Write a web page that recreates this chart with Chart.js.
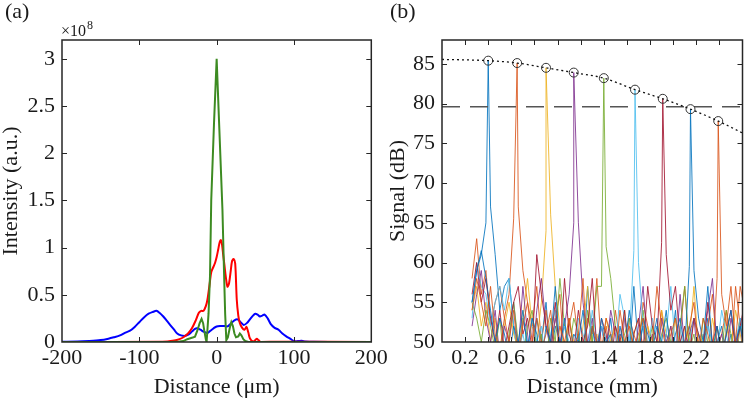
<!DOCTYPE html>
<html><head><meta charset="utf-8">
<script src="https://cdn.jsdelivr.net/npm/chart.js@4.4.1/dist/chart.umd.min.js"></script>
<style>
html,body{margin:0;padding:0;background:#fff;}
#wrap{position:relative;width:748px;height:400px;overflow:hidden;background:#fff;font-family:'Liberation Serif','Times New Roman',serif;color:#1a1a1a;}
canvas{position:absolute;top:0;}
#ca{left:0;}
#cb{left:380px;}
.t{position:absolute;white-space:nowrap;}
</style></head>
<body><div id="wrap">
<canvas id="ca" width="400" height="400"></canvas>
<canvas id="cb" width="368" height="400"></canvas>
<div class="t" style="left:5px;top:0px;font-size:22px;line-height:22px;">(a)</div>
<div class="t" style="left:390px;top:0px;font-size:22px;line-height:22px;">(b)</div>
<div class="t" style="left:61px;top:23px;font-size:16px;line-height:16px;">×10</div>
<div class="t" style="left:87px;top:19px;font-size:12px;line-height:12px;">8</div>
</div>
<script>
// ---------- Panel (a): intensity profiles (units of 1e8 a.u.) ----------
const blueUm = [-200,-180,-165,-150,-140,-133,-125,-118,-112,-106,-100,-94,-88,-82,-78,-74,-69,-64,-60,-55,-51,-46,-41,-36,-32,-28,-25,-21,-17,-12,-8,-4,0,5,10,14,19,23,27,31,35,39,43,47,50,53,56,59,62,66,70,75,80,85,90,95,100,105,110,115,125,150,200];
const blueI  = [0.003,0.004,0.01,0.02,0.035,0.05,0.07,0.1,0.12,0.16,0.21,0.26,0.3,0.32,0.33,0.31,0.27,0.22,0.18,0.13,0.09,0.07,0.065,0.08,0.11,0.14,0.145,0.13,0.11,0.095,0.12,0.145,0.165,0.17,0.17,0.165,0.2,0.23,0.24,0.21,0.18,0.2,0.24,0.28,0.3,0.29,0.27,0.28,0.29,0.25,0.19,0.15,0.13,0.09,0.06,0.035,0.01,0.01,0.012,0.006,0.002,0.001,0.001];
const redUm  = [-200,-70,-55,-48,-43,-37,-32,-27,-23,-20,-17,-14,-12,-9,-7,-4,-2,0,2,4,5.5,7,8.5,10,12,14,16,18,20,22,24,26,28,30,33,36,38.5,41,43,47,50,52,54,57,80,200];
const redI   = [0,0.002,0.015,0.03,0.05,0.09,0.145,0.23,0.31,0.33,0.33,0.38,0.445,0.62,0.74,0.8,0.84,0.9,0.98,1.06,1.08,1.03,0.92,0.82,0.68,0.586,0.62,0.74,0.86,0.88,0.83,0.45,0.28,0.2,0.15,0.13,0.16,0.1,0.04,0.005,0.02,0.035,0.02,0,0.003,0];
const greenUm = [-200,-60,-48,-43,-38,-34,-30,-28,-25,-22,-19.5,-17.5,-16,-14,-13,-10.5,-8.6,-7,-3.5,0,3.5,7.5,9.5,11,12.5,14.5,17,19,21,23,25,28,30,32,34.5,37,41,80,200];
const greenI  = [0,0,0.005,0.01,0.03,0.04,0.05,0.056,0.12,0.2,0.245,0.2,0.12,0.03,0,0.3,0.7,1.5,2.3,3.0,2.25,1.4,0.75,0.3,0.02,0.05,0.15,0.21,0.17,0.09,0.05,0.06,0.09,0.07,0.03,0.01,0,0,0];

// ---------- Panel (b): A-scan signals (dB) ----------
const distGridMm = [0.26,0.30,0.34,0.38,0.42,0.46,0.50,0.54,0.58,0.62,0.66,0.70,0.74,0.78,0.82,0.86,0.90,0.94,0.98,1.02,1.06,1.10,1.14,1.18,1.22,1.26,1.30,1.34,1.38,1.42,1.46,1.50,1.54,1.58,1.62,1.66,1.70,1.74,1.78,1.82,1.86,1.90,1.94,1.98,2.02,2.06,2.10,2.14,2.18,2.22,2.26,2.30,2.34,2.38,2.42,2.46,2.50,2.54,2.58,2.62];
const scan1 = [55,59,61,65,67,61,54,57,58,52, 48,53,50,47,53,50,55,48,52,50, 46,53,49,51,47,57,50,48,52,49, 53,47,51,50,48,57,49,52,47,50, 53,48,51,49,54,47,50,52,48,51, 49,53,47,50,52,48,51,49,53,50];
const scan2 = [58,63,56,59,52,55,57,53,56,65.5, 67,59,55,52,57,50,54,49,53,56, 48,52,55,50,47,53,51,58,49,52, 48,54,50,47,53,51,49,55,52,48, 50,54,49,52,47,51,57,49,53,50, 48,52,56,49,51,54,48,57,52,50];
const scan3 = [54,57,52,55,50,53,48,52,55,51, 49,53,58,52,50,55,64,66,57,52, 49,53,50,47,52,57,49,51,48,53, 50,52,49,54,47,51,53,49,52,50, 48,54,51,49,53,47,52,50,57,49, 51,48,53,50,47,52,49,54,51,48];
const scan4 = [52,56,59,53,50,54,48,52,50,55, 49,57,51,47,54,58,52,49,53,50, 52,56,65,65,55,50,53,48,52,49, 54,51,47,53,50,48,52,57,49,51, 47,53,50,52,48,56,49,51,53,47, 50,54,58,49,51,48,53,50,52,48];
const scan5 = [55,53,50,54,52,49,53,47,51,55, 50,48,52,54,49,51,47,53,50,58, 52,49,53,51,48,54,50,57,57,62, 58,52,49,51,53,48,50,54,49,52, 47,51,53,50,48,52,57,49,51,47, 53,50,48,52,49,54,51,47,52,50];
const scan6 = [53,60,57,56,52,55,57,54,58,52, 49,51,48,53,50,52,47,51,54,49, 52,50,48,53,51,49,54,50,52,48, 51,49,56,53,50,61.5,60,52,49,53, 50,48,51,57,49,52,47,50,53,51, 48,52,50,49,54,51,48,50,53,49];
const scan7 = [56,60,55,58,53,50,54,49,52,55, 57,51,53,49,61,56,52,50,55,48, 58,51,49,54,50,52,58,49,53,51, 47,52,50,54,48,51,53,49,57,52, 50,62.5,61,54,57,50,52,48,53,51, 49,55,50,52,48,51,54,49,52,55];
const scan8 = [55,59,61.5,58,54,50,53,51,48,52, 50,54,49,53,51,47,52,50,57,49, 53,48,51,50,54,49,52,48,53,50, 51,47,52,49,54,50,48,53,51,49, 52,50,54,48,51,53,49,59.5,59,53, 50,57,49,52,48,51,54,50,52,49];
const scan9 = [54,58,55,52,57,51,49,53,50,54, 48,52,55,50,53,49,51,54,48,52, 50,53,49,51,58,48,52,50,49,53, 51,48,54,50,52,49,51,53,48,50, 57,52,49,51,53,48,50,52,55,49, 53,51,48,58,56,52,57,50,57,54];
const peakMm = [0.40,0.65,0.90,1.14,1.40,1.67,1.91,2.15,2.39];
const peakDb = [85.4,85.1,84.5,83.9,83.2,81.75,80.6,79.3,77.8];
const fitMm  = [0,0.2,0.40,0.65,0.90,1.14,1.40,1.67,1.91,2.15,2.39,2.6];
const fitDb  = [85.55,85.5,85.4,85.1,84.5,83.9,83.2,81.75,80.6,79.3,77.8,76.3];
const thresholdDb = 79.6;
const rangeMm = [0, 2.6];
const labeledMm = [0.2,0.6,1.0,1.4,1.8,2.2];

const scans = [scan1,scan2,scan3,scan4,scan5,scan6,scan7,scan8,scan9];
const scanColors = ['rgba(0,114,189,0.85)','rgba(217,83,25,0.85)','rgba(237,177,32,0.85)','rgba(126,47,142,0.85)','rgba(119,172,48,0.85)','rgba(77,190,238,0.85)','rgba(162,20,47,0.85)','rgba(0,114,189,0.85)','rgba(217,83,25,0.85)'];

Chart.defaults.font.family = "'Liberation Serif','Times New Roman',serif";
Chart.defaults.font.size = 22;
Chart.defaults.color = '#1a1a1a';

const zip = (xs, ys) => xs.map((x, i) => ({x, y: ys[i]}));

const framePlugin = {
  id: 'frame',
  afterDatasetsDraw(chart) {
    const {ctx, chartArea: a, scales} = chart;
    const L = 5;
    ctx.save();
    ctx.strokeStyle = '#262626';
    ctx.lineWidth = 1;
    ctx.beginPath();
    scales.x.ticks.forEach(t => {
      const p = Math.round(scales.x.getPixelForValue(t.value)) + 0.5;
      if (p <= a.left + 1 || p >= a.right - 1) return;
      ctx.moveTo(p, a.bottom); ctx.lineTo(p, a.bottom - L);
      ctx.moveTo(p, a.top); ctx.lineTo(p, a.top + L);
    });
    scales.y.ticks.forEach(t => {
      const p = Math.round(scales.y.getPixelForValue(t.value)) + 0.5;
      if (p <= a.top + 1 || p >= a.bottom - 1) return;
      ctx.moveTo(a.left, p); ctx.lineTo(a.left + L, p);
      ctx.moveTo(a.right, p); ctx.lineTo(a.right - L, p);
    });
    ctx.stroke();
    ctx.lineWidth = 1.5;
    ctx.strokeRect(a.left, a.top, a.right - a.left, a.bottom - a.top);
    ctx.restore();
  }
};

function axis(o) {
  return {
    type: 'linear', position: o.pos, min: o.min, max: o.max,
    grid: {display: false, drawTicks: false},
    border: {display: false},
    ticks: {stepSize: o.step, includeBounds: false, autoSkip: false, maxRotation: 0, padding: o.pad, callback: o.cb},
    title: {display: true, text: o.title, padding: o.tpad, font: {size: 22, lineHeight: 1}},
    afterFit: o.fit
  };
}

const baseOpts = {
  responsive: false, animation: false, devicePixelRatio: 1,
  plugins: {legend: {display: false}, tooltip: {enabled: false}},
  elements: {point: {radius: 0}}
};

// Panel (a)
new Chart(document.getElementById('ca'), {
  type: 'line',
  data: {datasets: [
    {data: zip(greenUm, greenI), borderColor: '#3d8b22', borderWidth: 2, tension: 0, order: 0},
    {data: zip(redUm, redI), borderColor: '#ff0000', borderWidth: 2, tension: 0.3, order: 1},
    {data: zip(blueUm, blueI), borderColor: '#0000ff', borderWidth: 2, tension: 0.3, order: 2}
  ]},
  options: Object.assign({}, baseOpts, {
    layout: {padding: {left: 0, right: 28.7, top: 40, bottom: 0}},
    scales: {
      x: axis({pos: 'bottom', min: -200, max: 200, step: 100, pad: 3, title: 'Distance (μm)', tpad: {top: 0, bottom: 2},
        cb: v => String(Math.round(v)), fit: s => { s.height = 58; }}),
      y: axis({pos: 'left', min: 0, max: 3.2, step: 0.5, pad: 7, title: 'Intensity (a.u.)', tpad: {top: 0, bottom: 0},
        cb: v => String(Number(v.toFixed(2))), fit: s => { s.width = 62; }})
    }
  }),
  plugins: [framePlugin]
});

// Panel (b)
const dsB = [
  {data: zip(fitMm, fitDb), borderColor: '#111', borderWidth: 1.3, borderDash: [2, 3], cubicInterpolationMode: 'monotone', order: 0},
  {data: zip(peakMm, peakDb), showLine: false, pointRadius: 4.5, pointBorderColor: '#333', pointBackgroundColor: 'rgba(0,0,0,0)', pointBorderWidth: 1, order: 0},
  {data: zip(rangeMm, [thresholdDb, thresholdDb]), borderColor: '#555', borderWidth: 1.6, borderDash: [18, 10], order: 1}
];
scans.forEach((s, i) => {
  const pts = zip(distGridMm, s);
  let k = pts.findIndex(p => p.x > peakMm[i]);
  if (k < 0) k = pts.length;
  pts.splice(k, 0, {x: peakMm[i], y: peakDb[i]});
  dsB.push({data: pts, borderColor: scanColors[i], borderWidth: 1, tension: 0, order: 100 - i, clip: 0});
});

new Chart(document.getElementById('cb'), {
  type: 'line',
  data: {datasets: dsB},
  options: Object.assign({}, baseOpts, {
    layout: {padding: {left: 0, right: 3, top: 40, bottom: 0}},
    scales: {
      x: axis({pos: 'bottom', min: rangeMm[0], max: rangeMm[1], step: 0.2, pad: 3, title: 'Distance (mm)', tpad: {top: 0, bottom: 2},
        cb: v => { const r = Math.round(v * 10) / 10; return labeledMm.includes(r) ? r.toFixed(1) : ''; }, fit: s => { s.height = 58; }}),
      y: axis({pos: 'left', min: 50, max: 88, step: 5, pad: 7, title: 'Signal (dB)', tpad: {top: 7, bottom: 0},
        cb: v => String(Math.round(v)), fit: s => { s.width = 62; }})
    }
  }),
  plugins: [framePlugin]
});
</script>
</body></html>
